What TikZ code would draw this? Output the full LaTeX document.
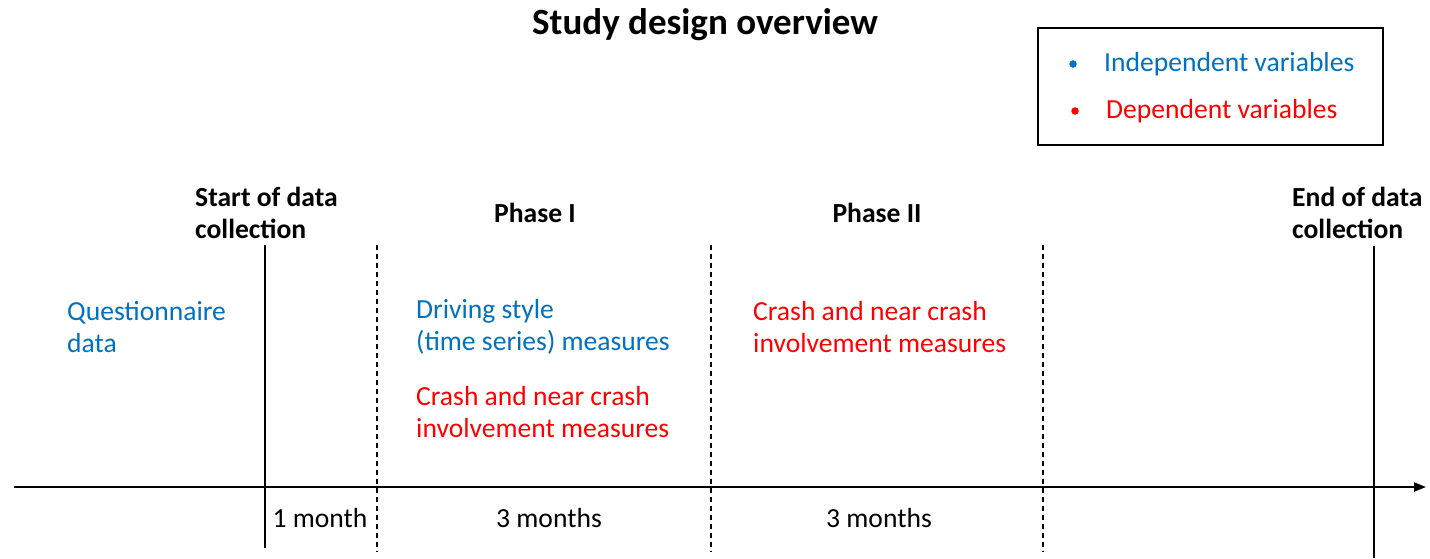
\documentclass[tikz,border=0pt]{standalone}
\usepackage{fontspec}
\setmainfont{Carlito}
\usepackage{xcolor}
\usetikzlibrary{arrows.meta,positioning}

\definecolor{indblue}{RGB}{0,112,192}
\definecolor{depred}{RGB}{255,0,0}

\begin{document}
\begin{tikzpicture}[
        x=1pt, y=-1pt,
        txt/.style={inner sep=0pt, font=\fontsize{27.6}{32}\selectfont, align=left},
        head/.style={txt, font=\fontsize{27.6}{32}\selectfont\bfseries},
        ind/.style={txt, text=indblue, anchor=west},
        dep/.style={txt, text=depred, anchor=west},
        dot/.style={circle, inner sep=0pt, minimum size=7.5pt},
        solidmark/.style={draw, line width=1.5pt},
        phasemark/.style={draw, line width=1.2pt, dash pattern=on 5pt off 4pt},
        axis/.style={draw, line width=2pt, -{Triangle[length=12pt,width=9pt]}}
    ]
    \useasboundingbox (0,0) rectangle (1430,558);

    % Title
    \node [txt, font=\fontsize{37}{44}\selectfont\bfseries] (title) at (705,25) {Study design overview};

    % Legend
    \node [draw, line width=1.5pt, minimum width=345pt, minimum height=117pt] (legend) at (1210.5,86.5) {};
    \node [dot, fill=indblue] (inddot) at (1073,64) {};
    \node [ind, right=27pt of inddot] (indtxt) {Independent variables};
    \node [dot, fill=depred] (depdot) at (1075,111) {};
    \node [dep, right=27pt of depdot] (deptxt) {Dependent variables};

    % Timeline axis
    \coordinate (t0) at (14,487);
    \coordinate (t1) at (1426,487);
    \path [axis] (t0) -- (t1);

    % Start / end of data collection
    \coordinate (starttop) at (265,245);
    \coordinate (startbot) at (265,548);
    \coordinate (endtop) at (1374,246);
    \coordinate (endbot) at (1374,558);
    \path [solidmark] (starttop) -- (startbot);
    \path [solidmark] (endtop) -- (endbot);

    % Phase boundaries
    \foreach \px/\nm in {377/a, 711/b, 1043/c} {
        \coordinate (\nm top) at (\px,245);
        \coordinate (\nm bot) at (\px,552);
        \path [phasemark] (\nm top) -- (\nm bot);
    }

    % Headings
    \node [head, anchor=west] (start) at (195,213) {Start of data\\collection};
    \node [head] (phase1) at (535,213) {Phase I};
    \node [head] (phase2) at (877,213) {Phase II};
    \node [head, anchor=west] (end) at (1292,213) {End of data\\collection};

    % Measures
    \node [ind] (quest) at (67,327) {Questionnaire\\data};
    \node [ind] (driving) at (416,327) {Driving style\\(time series) measures};
    \node [dep] (crash1) at (416,412) {Crash and near crash\\involvement measures};
    \node [dep] (crash2) at (753,327) {Crash and near crash\\involvement measures};

    % Durations
    \node [txt] (d1) at (320,518) {1 month};
    \node [txt] (d2) at (549,518) {3 months};
    \node [txt] (d3) at (879,518) {3 months};

\end{tikzpicture}
\end{document}
